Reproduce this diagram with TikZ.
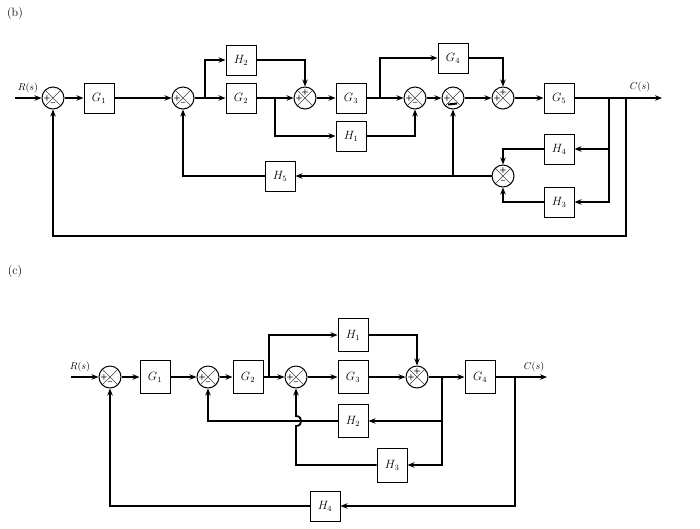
\documentclass[tikz,border=0pt]{standalone}
\usetikzlibrary{arrows.meta,calc}
\begin{document}
\begin{tikzpicture}[x=1pt,y=-1pt,
  blk/.style={draw,line width=1pt,minimum width=30pt,minimum height=30pt,inner sep=0pt,font=\fontsize{12}{14}\selectfont},
  sumj/.style={draw,circle,line width=1pt,minimum size=22pt,inner sep=0pt,
    path picture={\draw[line width=0.6pt,black!75] (path picture bounding box.north west)--(path picture bounding box.south east)
      (path picture bounding box.north east)--(path picture bounding box.south west);}},
  sgn/.style={font=\sffamily\bfseries\fontsize{8}{8}\selectfont,inner sep=0pt},
  arr/.style={line width=1.8pt,-{Stealth[length=7pt,width=5.5pt]}},
  sig/.style={font=\fontsize{10}{12}\selectfont,inner sep=0pt},
  ttl/.style={font=\fontsize{12}{14}\selectfont,inner sep=0pt}]
\useasboundingbox (0,0) rectangle (700,528);

% ---------------- (b) ----------------
\node[ttl] (lb) at (15,14) {(b)};
\coordinate (rinb) at (15,98);
\node[sig] (rlab) at (28,88) {$R(s)$};
\node[sumj] (b1) at (53,98) {};
\node[blk] (g1) at (99,98) {$G_1$};
\node[sumj] (b2) at (183,98) {};
\coordinate (p1) at (205,98);
\node[blk] (h2) at (241,60) {$H_2$};
\node[blk] (g2) at (241,98) {$G_2$};
\coordinate (p2) at (275,98);
\node[sumj] (b3) at (305,98) {};
\node[blk] (g3) at (351,98) {$G_3$};
\node[blk] (h1) at (351,136) {$H_1$};
\coordinate (p3) at (380,98);
\node[blk] (g4) at (453,58) {$G_4$};
\node[sumj] (b4) at (415,98) {};
\node[sumj] (b5) at (453,98) {};
\node[sumj] (b6) at (503,98) {};
\node[blk] (g5) at (559,98) {$G_5$};
\coordinate (p4) at (609,98);
\coordinate (p6) at (626,98);
\coordinate (coutb) at (662,98);
\node[sig] (clab) at (640,87) {$C(s)$};
\node[blk] (h4) at (559,149) {$H_4$};
\node[blk] (h3) at (559,202) {$H_3$};
\node[sumj] (b7) at (503,176) {};
\coordinate (p5) at (453,176);
\node[blk] (h5) at (280,176) {$H_5$};
\coordinate (q1) at (626,236);

% signs (b)
\node[sgn] at ($(b1)+(-6,0)$) {+}; \node[sgn] at ($(b1)+(0,6)$) {\textendash};
\node[sgn] at ($(b2)+(-6,0)$) {+}; \node[sgn] at ($(b2)+(0,6)$) {\textendash};
\node[sgn] at ($(b3)+(-6,0)$) {+}; \node[sgn] at ($(b3)+(0,-6)$) {+};
\node[sgn] at ($(b4)+(-6,0)$) {+}; \node[sgn] at ($(b4)+(0,6)$) {\textendash};
\node[sgn] at ($(b5)+(-6,0)$) {+};
\draw[line width=2pt] ($(b5)+(-5,6.5)$) -- ($(b5)+(4,5.5)$);
\node[sgn] at ($(b6)+(-6,0)$) {+}; \node[sgn] at ($(b6)+(0,-6)$) {+};
\node[sgn] at ($(b7)+(0,-6)$) {+}; \node[sgn] at ($(b7)+(0,6)$) {\textendash};

% connectors (b)
\draw[arr] (rinb) -- (b1);
\draw[arr] (b1) -- (g1);
\draw[arr] (g1) -- (b2);
\draw[arr] (b2) -- (g2);
\draw[arr] (p1) |- (h2);
\draw[arr] (h2) -| (b3);
\draw[arr] (g2) -- (b3);
\draw[arr] (p2) |- (h1);
\draw[arr] (b3) -- (g3);
\draw[arr] (g3) -- (b4);
\draw[arr] (p3) |- (g4);
\draw[arr] (h1) -| (b4);
\draw[arr] (b4) -- (b5);
\draw[arr] (b5) -- (b6);
\draw[arr] (g4) -| (b6);
\draw[arr] (b6) -- (g5);
\draw[arr] (g5) -- (coutb);
\draw[arr] (p4) |- (h4);
\draw[arr] (p4) |- (h3);
\draw[arr] (h4) -| (b7);
\draw[arr] (h3) -| (b7);
\draw[arr] (b7) -- (h5);
\draw[arr] (p5) -- (b5);
\draw[arr] (h5) -| (b2);
\draw[arr] (p6) -- (q1) -| (b1);

% ---------------- (c) ----------------
\node[ttl] (lc) at (15,271) {(c)};
\coordinate (rinc) at (71,377);
\node[sig] (rlabc) at (80,367) {$R(s)$};
\node[sumj] (c1) at (110,377) {};
\node[blk,minimum height=33pt] (cg1) at (155,377) {$G_1$};
\node[sumj] (c2) at (208,377) {};
\node[blk,minimum height=33pt] (cg2) at (248,377) {$G_2$};
\coordinate (pc1) at (269,377);
\node[blk,minimum height=33pt] (ch1) at (353,335) {$H_1$};
\node[sumj] (c3) at (296,377) {};
\node[blk,minimum height=33pt] (cg3) at (353,377) {$G_3$};
\node[blk,minimum height=33pt] (ch2) at (353,421) {$H_2$};
\node[blk,minimum height=34pt] (ch3) at (392,465) {$H_3$};
\node[sumj] (c4) at (417,377) {};
\coordinate (pc2) at (442,377);
\node[blk,minimum height=33pt] (cg4) at (480,377) {$G_4$};
\coordinate (pc3) at (515,377);
\coordinate (coutc) at (547,377);
\node[sig] (clabc) at (534,367) {$C(s)$};
\node[blk] (ch4) at (325,506) {$H_4$};
\coordinate (qc1) at (515,506);

% signs (c)
\node[sgn] at ($(c1)+(-6,0)$) {+}; \node[sgn] at ($(c1)+(0,6)$) {\textendash};
\node[sgn] at ($(c2)+(-6,0)$) {+}; \node[sgn] at ($(c2)+(0,6)$) {\textendash};
\node[sgn] at ($(c3)+(-6,0)$) {+}; \node[sgn] at ($(c3)+(0,6)$) {\textendash};
\node[sgn] at ($(c4)+(-6,0)$) {+}; \node[sgn] at ($(c4)+(0,-6)$) {+};

% connectors (c)
\draw[arr] (rinc) -- (c1);
\draw[arr] (c1) -- (cg1);
\draw[arr] (cg1) -- (c2);
\draw[arr] (c2) -- (cg2);
\draw[arr] (cg2) -- (c3);
\draw[arr] (pc1) |- (ch1);
\draw[arr] (c3) -- (cg3);
\draw[arr] (cg3) -- (c4);
\draw[arr] (ch1) -| (c4);
\draw[arr] (c4) -- (cg4);
\draw[arr] (cg4) -- (coutc);
\draw[arr] (pc2) |- (ch2);
\draw[arr] (pc2) |- (ch3);
\draw[arr] (ch2) -| (c2);
\draw[arr] (ch3) -| (296,426) .. controls (303,426) and (303,416) .. (296,416) -- (c3);
\draw[arr] (pc3) -- (qc1) -- (ch4);
\draw[arr] (ch4) -| (c1);
\end{tikzpicture}
\end{document}
